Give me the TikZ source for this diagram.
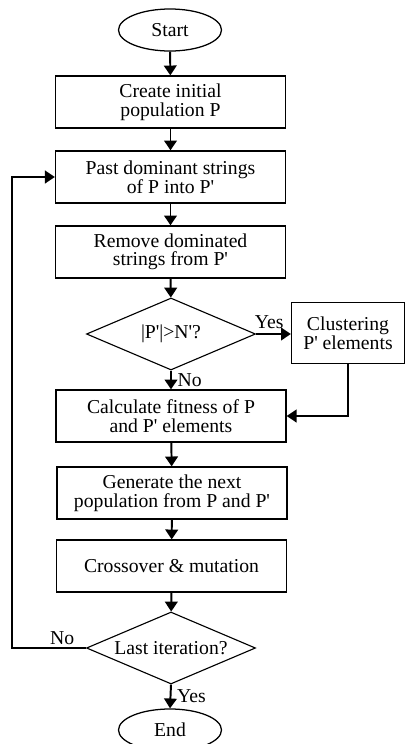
\documentclass[tikz,border=0pt]{standalone}
\usepackage{fontspec}
\setmainfont{Liberation Serif}
\usetikzlibrary{shapes.geometric,arrows.meta}

\newcommand{\pq}{\textquotesingle}

\tikzset{
  procbox/.style={rectangle,draw,line width=0.9pt,minimum width=5.75cm,minimum height=1.3cm,align=center,inner sep=0pt},
  termnode/.style={ellipse,draw,line width=0.9pt,minimum width=2.575cm,minimum height=1.05cm,inner sep=0pt},
  decnode/.style={diamond,draw,line width=0.8pt,minimum width=4.225cm,minimum height=1.8cm,inner sep=0pt,aspect=2.35},
  flow/.style={->,line width=1.4pt},
}

\begin{document}
\begin{tikzpicture}[>={Triangle[length=7pt,width=9pt]},x=0.025cm,y=-0.025cm,font=\fontsize{14}{13.2}\selectfont]
    \useasboundingbox (0,0) rectangle (405,744);
    \node [termnode] (start) at (170,30) {Start};
    \node [procbox] (create) at (170.5,102) {Create initial\\population P};
    \node [procbox] (past) at (170.5,177) {Past dominant strings\\of P into P\pq};
    \node [procbox] (remove) at (170.5,252) {Remove dominated\\strings from P\pq};
    \node [decnode] (check) at (171,334) {|P\pq|>N\pq?};
    \node [procbox,minimum width=2.825cm,minimum height=1.525cm] (cluster) at (348,333) {Clustering\\P\pq{} elements};
    \node [procbox] (fitness) at (171,416) {Calculate fitness of P\\and P\pq{} elements};
    \node [procbox] (generate) at (172,493) {Generate the next\\population from P and P\pq};
    \node [procbox] (cross) at (171.5,566) {Crossover \& mutation};
    \node [decnode] (last) at (171,648) {Last iteration?};
    \node [termnode] (finish) at (170,730) {End};
    \coordinate (loop) at (12,648);
    \foreach \a/\b in {start/create,create/past,past/remove,remove/check,fitness/generate,generate/cross,cross/last}
        \draw [flow] (\a) -- (\b);
    \draw [flow] (check.east) -- node [above,inner sep=3pt,xshift=-3pt] (yesa) {Yes} (check.east -| cluster.west);
    \draw [flow] (check.south) -- node [right,inner sep=4pt] (noa) {No} (fitness.north);
    \draw [flow] (cluster.south) |- (fitness.east);
    \draw [flow] (last.west) -- node [above,inner sep=2pt,pos=0.32] (nob) {No} (loop) |- (past.west);
    \draw [flow] (last.south) -- node [right,inner sep=4pt] (yesb) {Yes} (finish.north);
\end{tikzpicture}
\end{document}
